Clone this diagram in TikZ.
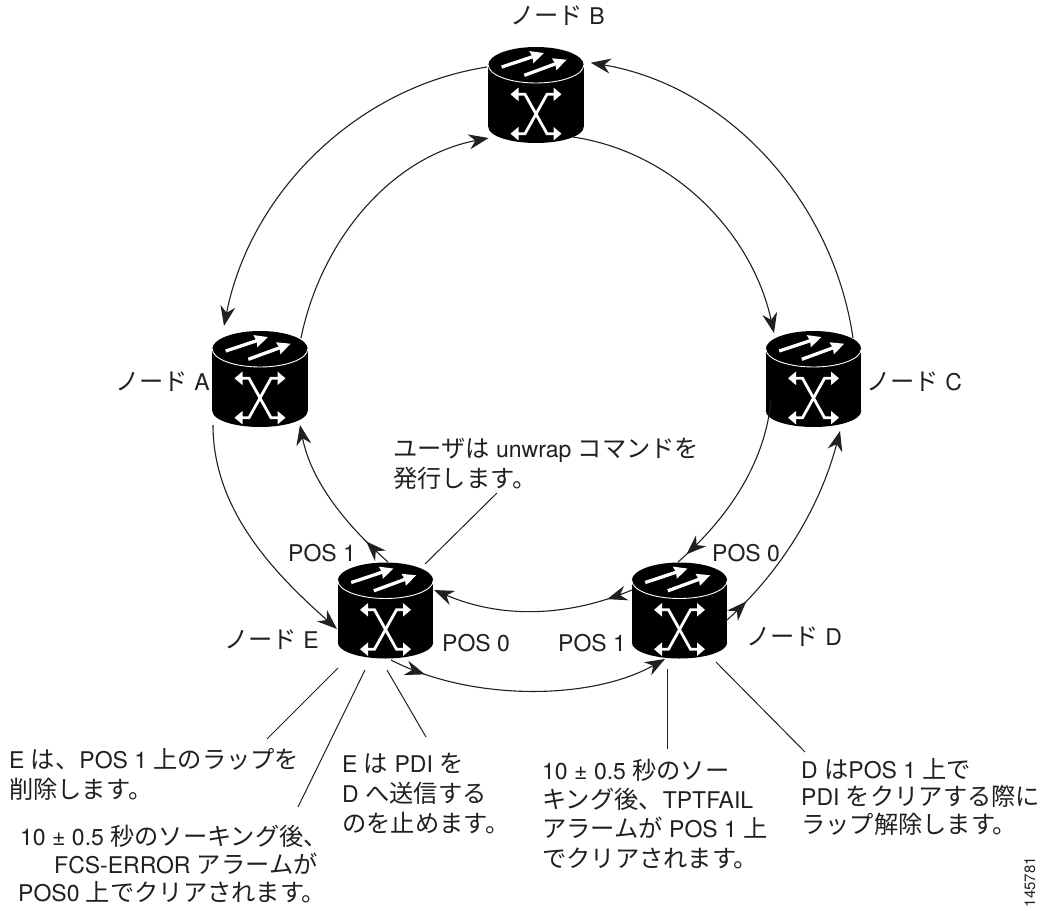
\documentclass[tikz,border=0pt]{standalone}
\usepackage{fontspec}
\setmainfont{TeX Gyre Heros}
\newfontfamily\cjk[Scale=1.055]{Noto Sans CJK JP}
\newcommand{\jp}[1]{{\cjk #1}}
\usetikzlibrary{arrows.meta,decorations.markings,calc}
\definecolor{ink}{HTML}{231F20}
\tikzset{
  hd/.tip={Stealth[length=20pt,width=15pt,inset=6.5pt]},
  wire/.style={draw=ink,line width=1.1pt},
  tipped/.style={wire,-hd},
  midtip/.style={postaction=decorate,decoration={markings,mark=at position #1 with {\arrow{hd}}}},
  leader/.style={draw=ink,line width=1pt},
  box/.style={minimum width=95.5pt,minimum height=96pt,inner sep=0pt,draw=none,fill=none},
  lbl/.style={text=ink,inner sep=0pt,anchor=base west,font=\fontsize{23}{30}\selectfont},
  multi/.style={lbl,align=left,font=\fontsize{23}{#1}\selectfont},
  wflow/.style={draw=white,line width=3.3pt,-{Stealth[length=13pt,width=12pt,inset=1pt]}},
  wsw/.style={draw=white,line width=2.8pt,{Stealth[length=8pt,width=13pt,inset=0pt]}-{Stealth[length=8pt,width=13pt,inset=0pt]}},
  router/.pic={
    \fill[black] (0,-30) ellipse [x radius=47.7pt,y radius=18pt];
    \fill[black] (-47.7,-30) rectangle (47.7,32);
    \fill[black] (0,32) ellipse [x radius=47.7pt,y radius=16pt];
    \draw[white,line width=0.9pt] (-47.7,-30) .. controls (-47.7,-20) and (-26,-12) .. (0,-12) .. controls (26,-12) and (47.7,-20) .. (47.7,-30);
    \draw[wflow] (-34.3,-28) -- (8,-42);
    \draw[wflow] (-11.7,-19.7) -- (30.7,-35.3);
    \draw[wsw] (-25.5,-0.7) -- (-11,-0.7) -- (11,38.7) -- (25.5,38.7);
    \draw[wsw] (25.5,-0.7) -- (11,-0.7) -- (-11,38.7) -- (-25.5,38.7);
  }
}
\begin{document}
\begin{tikzpicture}[x=1pt,y=-1pt]
\useasboundingbox (0,0) rectangle (1056,910);
% routers
\pic at (536,95) {router};
\pic at (260,379) {router};
\pic at (813.5,379) {router};
\pic at (679.5,610.5) {router};
\pic at (385.5,610.5) {router};
\node[box] (B) at (536,95) {};
\node[box] (A) at (260,379) {};
\node[box] (C) at (813.5,379) {};
\node[box] (D) at (679.5,610.5) {};
\node[box] (E) at (385.5,610.5) {};
% ring, outer
\draw[tipped] ([shift={(-49,-28)}]B.center) .. controls (355,87.5) and (250,194) .. ([shift={(-36,-53)}]A.center);
\draw[tipped] ([shift={(39.5,-41)}]C.center) .. controls (833,201) and (728,86) .. ([shift={(54.7,-32.3)}]B.center);
% ring, inner
\draw[tipped] ([shift={(41,-41)}]A.center) .. controls (321,240) and (391,157) .. ([shift={(-47.3,43)}]B.center);
\draw[tipped] ([shift={(37,42)}]B.center) .. controls (674,152) and (752,233) .. ([shift={(-39.5,-46)}]C.center);
% lower segments
\draw[wire,midtip=0.94] ([shift={(-42.5,21)}]C.center) .. controls (765,465) and (726,520) .. ([shift={(-1.5,-48.5)}]D.center);
\draw[tipped,midtip=0.12] ([shift={(47.5,9.5)}]D.center) .. controls (783,570) and (821,504) .. ([shift={(26.5,52)}]C.center);
\draw[tipped] ([shift={(-47,46)}]A.center) .. controls (213,510) and (274,573) .. ([shift={(-48.5,18.5)}]E.center);
\draw[tipped,midtip=0.18] ([shift={(2.5,-48.5)}]E.center) .. controls (345,524) and (311,481) .. ([shift={(40,46)}]A.center);
\draw[tipped,midtip=0.13] ([shift={(-47.5,-20.5)}]D.center) .. controls (565,618) and (500,618) .. ([shift={(48.5,-20.5)}]E.center);
\draw[tipped,midtip=0.13] ([shift={(5.5,49.5)}]E.center) .. controls (470,701) and (590,701) .. ([shift={(-14.5,48.5)}]D.center);
% node labels
\node[lbl] (lB) at (510,24) {\jp{ノード} B};
\node[lbl] (lA) at (115,390) {\jp{ノード} A};
\node[lbl] (lC) at (866,390) {\jp{ノード} C};
\node[lbl] (lD) at (746,645) {\jp{ノード} D};
\node[lbl] (lE) at (224,648) {\jp{ノード} E};
\node[lbl] (p1) at (288,561) {POS 1};
\node[lbl] (p2) at (712,561) {POS 0};
\node[lbl] (p3) at (442,651) {POS 0};
\node[lbl] (p4) at (558,651) {POS 1};
% notes
\node[multi=30] (tU) at (393,487) {\jp{ユーザは} unwrap \jp{コマンドを}\\\jp{発行します。}};
\node[multi=30] (t1) at (9,798) {E \jp{は、}POS 1 \jp{上のラップを}\\\jp{削除します。}};
\node[multi=28] (t2) at (18,901) {\hspace*{2pt}10 ± 0.5 \jp{秒のソーキング後、}\\\hspace*{36pt}FCS-ERROR \jp{アラームが}\\POS0 \jp{上でクリアされます。}};
\node[multi=30] (t3) at (342,832) {E \jp{は} PDI \jp{を}\\D \jp{へ送信する}\\\jp{のを止めます。}};
\node[multi=29.3] (t4) at (542,867) {10 ± 0.5 \jp{秒のソー}\\\jp{キング後、}TPTFAIL\\\jp{アラームが} POS 1 \jp{上}\\\jp{でクリアされます。}};
\node[multi=27.5] (t5) at (801,833) {D \jp{は}POS 1 \jp{上で}\\PDI \jp{をクリアする際に}\\\jp{ラップ解除します。}};
\node[text=ink,inner sep=0pt,rotate=90,font=\fontsize{15}{15}\selectfont] (num) at (1030,882) {145781};
% leaders
\coordinate (uEnd) at (497,493);
\coordinate (a1) at (267,739);
\coordinate (a2) at (298,807);
\coordinate (a3) at (426,737);
\coordinate (a4) at (667,749);
\coordinate (a5) at (805,752);
\draw[leader] ([shift={(39.5,-46.5)}]E.center) -- (uEnd);
\draw[leader] ([shift={(-47.5,57.5)}]E.center) -- (a1);
\draw[leader] ([shift={(-20.5,59.5)}]E.center) -- (a2);
\draw[leader] ([shift={(1.5,59.5)}]E.center) -- (a3);
\draw[leader] ([shift={(-12.5,58.5)}]D.center) -- (a4);
\draw[leader] ([shift={(36.5,51.5)}]D.center) -- (a5);
\end{tikzpicture}
\end{document}
